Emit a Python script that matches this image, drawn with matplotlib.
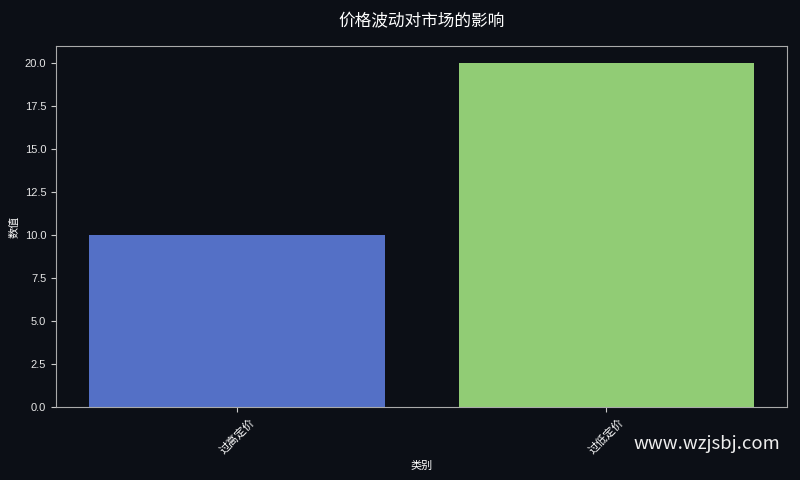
import matplotlib
matplotlib.use("Agg")
import matplotlib.pyplot as plt

plt.rcParams['font.family'] = ['Liberation Sans', 'Noto Sans CJK SC', 'DejaVu Sans']

categories = ['过高定价', '过低定价']
values = [10, 20]
bar_colors = ['#5470c6', '#91cc75']

bg = '#0c0f16'
fig, ax = plt.subplots(figsize=(8, 4.8), dpi=100)
fig.patch.set_facecolor(bg)
ax.set_facecolor(bg)

ax.bar(categories, values, color=bar_colors, width=0.8)

ax.set_title('价格波动对市场的影响', color='white', fontsize=12, pad=14)
ax.set_xlabel('类别', color='white', fontsize=8)
ax.set_ylabel('数值', color='white', fontsize=8)
ax.tick_params(colors='#cccccc', labelsize=8)
plt.setp(ax.get_xticklabels(), rotation=45, color='white')
plt.setp(ax.get_yticklabels(), color='#e6e6e6')
for s in ax.spines.values():
    s.set_color('#aaaaaa')

fig.text(0.792, 0.064, 'www.wzjsbj.com', color='#eeeeee', fontsize=13.3,
         family=['Noto Sans CJK SC', 'DejaVu Sans'])

plt.subplots_adjust(left=0.07, right=0.984, top=0.904, bottom=0.152)
fig.savefig('out.png', facecolor=bg)
